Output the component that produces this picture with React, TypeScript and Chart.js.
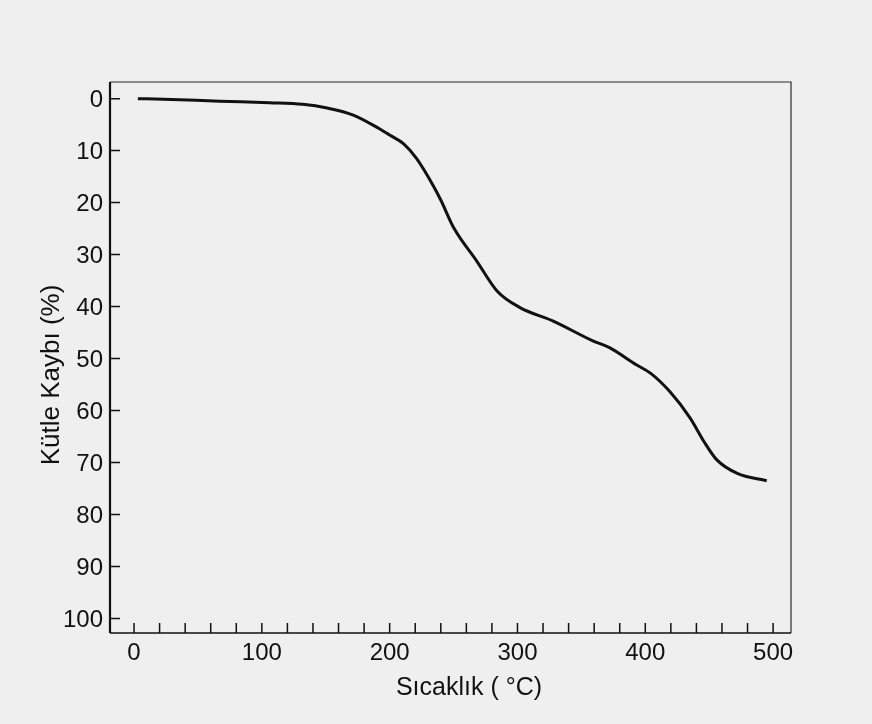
import { useEffect, useRef } from "react";
import { Chart, registerables } from "chart.js";

Chart.register(...registerables);

// Thermogravimetric curve: temperature (°C) vs. mass loss (%)
const temperatureC = [3, 23, 67, 106, 132, 151, 172, 192, 200, 211, 221, 234, 240, 250, 268, 284, 302, 328, 359, 372, 393, 404, 419, 435, 446, 456, 472, 495];
const massLossPct = [0, 0.1, 0.5, 0.8, 1.1, 1.8, 3.2, 5.8, 7.0, 8.7, 11.5, 16.7, 19.5, 24.8, 31.2, 37, 40.2, 42.8, 46.6, 47.9, 51.2, 52.8, 56.3, 61.4, 66, 69.5, 72.1, 73.5];

const xTickValues = [0, 100, 200, 300, 400, 500];
const xMinorTickValues = [0, 20, 40, 60, 80, 100, 120, 140, 160, 180, 200, 220, 240, 260, 280, 300, 320, 340, 360, 380, 400, 420, 440, 460, 480, 500];
const yTickValues = [0, 10, 20, 30, 40, 50, 60, 70, 80, 90, 100];

const xTitle = "Sıcaklık ( °C)";
const yTitle = "Kütle Kaybı (%)";

const FONT = "'Liberation Sans', Arial, Helvetica, sans-serif";
const INK = "#111111";

// Draws the boxed frame, inward tick marks and the axis titles
const framePlugin = {
  id: "frameAndTitles",
  afterDraw(chart: any) {
    const { ctx, chartArea: a, scales } = chart;
    const xs = scales.x;
    const ys = scales.y;
    ctx.save();

    // top and right edges: thin
    ctx.strokeStyle = "#2a2a2a";
    ctx.lineWidth = 1.2;
    ctx.beginPath();
    ctx.moveTo(a.left, a.top);
    ctx.lineTo(a.right, a.top);
    ctx.lineTo(a.right, a.bottom);
    ctx.stroke();

    // left axis: heavier
    ctx.strokeStyle = INK;
    ctx.lineWidth = 2.2;
    ctx.beginPath();
    ctx.moveTo(a.left, a.top);
    ctx.lineTo(a.left, a.bottom);
    ctx.stroke();

    // bottom axis
    ctx.lineWidth = 1.6;
    ctx.beginPath();
    ctx.moveTo(a.left, a.bottom);
    ctx.lineTo(a.right, a.bottom);
    ctx.stroke();

    // inward ticks
    ctx.lineWidth = 1.5;
    ctx.beginPath();
    for (const v of xMinorTickValues) {
      const px = xs.getPixelForValue(v);
      ctx.moveTo(px, a.bottom);
      ctx.lineTo(px, a.bottom - 10);
    }
    for (const v of yTickValues) {
      const py = ys.getPixelForValue(v);
      ctx.moveTo(a.left, py);
      ctx.lineTo(a.left + 10, py);
    }
    ctx.stroke();

    // axis titles
    ctx.fillStyle = INK;
    ctx.font = `25px ${FONT}`;
    ctx.textAlign = "center";
    ctx.textBaseline = "alphabetic";
    ctx.fillText(xTitle, a.left + 359, a.bottom + 62);

    ctx.translate(a.left - 51, a.top + 293);
    ctx.rotate(-Math.PI / 2);
    ctx.font = `26px ${FONT}`;
    ctx.fillText(yTitle, 0, 0);

    ctx.restore();
  },
};

export default function App() {
  const canvasRef = useRef<HTMLCanvasElement | null>(null);

  useEffect(() => {
    if (!canvasRef.current) return;
    const points = temperatureC.map((t, i) => ({ x: t, y: massLossPct[i] }));

    const chart = new Chart(canvasRef.current, {
      type: "line",
      data: {
        datasets: [
          {
            data: points,
            borderColor: INK,
            borderWidth: 3,
            pointRadius: 0,
            fill: false,
            cubicInterpolationMode: "monotone",
          },
        ],
      },
      options: {
        animation: false,
        responsive: true,
        maintainAspectRatio: false,
        layout: { padding: { left: 0, top: 82, right: 81, bottom: 0 } },
        plugins: {
          legend: { display: false },
          tooltip: { enabled: false },
        },
        scales: {
          x: {
            type: "linear",
            min: -18.8,
            max: 514,
            grid: { display: false, drawTicks: false },
            border: { display: false },
            afterBuildTicks: (scale: any) => {
              scale.ticks = xTickValues.map((v) => ({ value: v }));
            },
            afterFit: (scale: any) => {
              scale.height = 91;
            },
            ticks: {
              color: INK,
              padding: 6,
              maxRotation: 0,
              autoSkip: false,
              font: { family: FONT, size: 24 },
            },
          },
          y: {
            type: "linear",
            reverse: true,
            min: -3.2,
            max: 102.8,
            grid: { display: false, drawTicks: false },
            border: { display: false },
            afterBuildTicks: (scale: any) => {
              scale.ticks = yTickValues.map((v) => ({ value: v }));
            },
            afterFit: (scale: any) => {
              scale.width = 110;
            },
            ticks: {
              color: INK,
              padding: 7,
              labelOffset: 2,
              autoSkip: false,
              font: { family: FONT, size: 24 },
            },
          },
        },
      },
      plugins: [framePlugin],
    });

    return () => chart.destroy();
  }, []);

  return (
    <div
      style={{
        position: "fixed",
        left: 0,
        top: 0,
        width: 872,
        height: 724,
        background: "#efefef",
      }}
    >
      <canvas ref={canvasRef} />
    </div>
  );
}
